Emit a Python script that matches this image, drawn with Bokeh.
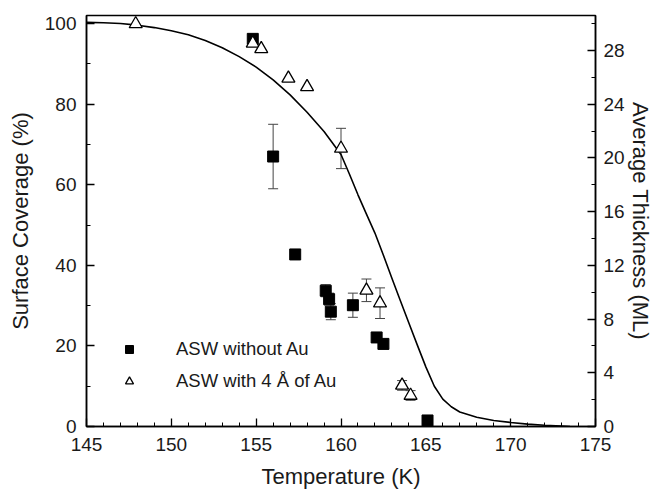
from bokeh.plotting import figure
from bokeh.models import (ColumnDataSource, Range1d, LinearAxis, Whisker, TeeHead,
                          Legend, LegendItem, FixedTicker)
from bokeh.embed import file_html
from bokeh.resources import INLINE

# --- data -----------------------------------------------------------------
# ASW without Au (filled squares)
sq_x = [154.8, 156.0, 157.3, 159.1, 159.3, 159.4, 160.7, 162.1, 162.5, 165.1]
sq_y = [96.2, 67.0, 42.7, 33.7, 31.6, 28.5, 30.1, 22.1, 20.5, 1.5]
sq_err = [0, 8.0, 0, 1.5, 1.5, 2.0, 3.0, 1.2, 1.2, 0]

# ASW with 4 Å of Au (open triangles)
tr_x = [147.9, 154.8, 155.3, 156.9, 158.0, 160.0, 161.5, 162.3, 163.6, 164.1]
tr_y = [99.9, 95.1, 93.7, 86.4, 84.3, 69.0, 33.8, 30.6, 10.2, 7.7]
tr_err = [0, 0, 0, 0, 0, 5.0, 2.8, 3.8, 1.2, 1.2]

# model curve
curve_x = [145.0, 146.0, 147.0, 148.0, 149.0, 150.0, 151.0, 152.0, 153.0, 154.0,
           155.0, 156.0, 157.0, 158.0, 159.0, 160.0, 160.5, 161.0, 161.5, 162.0,
           162.5, 163.0, 163.5, 164.0, 164.5, 165.0, 165.5, 166.0, 166.5, 167.0,
           168.0, 169.0, 170.0, 171.0, 172.0, 173.0, 173.5]
curve_y = [100.3, 100.2, 100.0, 99.6, 99.0, 98.2, 97.2, 95.8, 94.0, 91.8,
           89.2, 86.0, 82.3, 78.0, 73.2, 67.5, 62.6, 57.5, 52.7, 48.0,
           42.5, 36.8, 31.2, 25.7, 20.2, 14.8, 10.0, 6.8, 4.9, 3.6,
           2.3, 1.5, 1.0, 0.6, 0.3, 0.1, 0.0]

x_ticks = [145, 150, 155, 160, 165, 170, 175]
left_ticks = [0, 20, 40, 60, 80, 100]
right_ticks = [0, 4, 8, 12, 16, 20, 24, 28]

# --- figure ---------------------------------------------------------------
FONT = "Liberation Sans"
TXT = "#1a1a1a"

p = figure(width=658, height=491, output_backend="svg", toolbar_location=None,
           x_range=Range1d(145, 175), y_range=Range1d(0, 102),
           min_border_left=86, min_border_right=63, min_border_top=15,
           min_border_bottom=65)
p.extra_y_ranges = {"thick": Range1d(0, 102 * 0.3)}
p.grid.visible = False
p.outline_line_color = "black"
p.outline_line_width = 1.5
p.background_fill_color = "white"
p.border_fill_color = "white"

def style_axis(ax, ticks, minor):
    ax.ticker = FixedTicker(ticks=ticks, minor_ticks=minor)
    ax.major_tick_in = 8
    ax.major_tick_out = 0
    ax.minor_tick_in = 4
    ax.minor_tick_out = 0
    ax.axis_line_width = 1.5
    ax.major_tick_line_width = 1.3
    ax.minor_tick_line_width = 1.0
    ax.major_label_text_font = FONT
    ax.major_label_text_font_size = "19px"
    ax.major_label_text_color = TXT
    ax.axis_label_text_font = FONT
    ax.axis_label_text_font_size = "22px"
    ax.axis_label_text_font_style = "normal"
    ax.axis_label_text_color = TXT

xa = p.xaxis[0]
style_axis(xa, x_ticks, [145 + i for i in range(31)])
xa.axis_label = "Temperature (K)"
xa.major_label_standoff = 11
xa.axis_label_standoff = 10

ya = p.yaxis[0]
style_axis(ya, left_ticks, [10 * i for i in range(11)])
ya.axis_label = "Surface Coverage (%)"
ya.major_label_standoff = 10
ya.axis_label_standoff = 9

ra = LinearAxis(y_range_name="thick")
style_axis(ra, right_ticks, [2 * i for i in range(16)])
ra.axis_label = "Average Thickness (ML)"
ra.major_label_standoff = 8
ra.axis_label_standoff = 0
p.add_layout(ra, "right")

# curve
p.line(curve_x, curve_y, line_color="black", line_width=1.6)

# error bars
def whisk(xs, ys, es):
    xx, up, lo = [], [], []
    for x, y, e in zip(xs, ys, es):
        if e > 0:
            xx.append(x); up.append(y + e); lo.append(y - e)
    src = ColumnDataSource(dict(x=xx, upper=up, lower=lo))
    w = Whisker(source=src, base="x", upper="upper", lower="lower",
                dimension="height", line_color="#444444", line_width=1.0,
                upper_head=TeeHead(size=10, line_color="#444444", line_width=1.0),
                lower_head=TeeHead(size=10, line_color="#444444", line_width=1.0))
    p.add_layout(w)

whisk(sq_x, sq_y, sq_err)
whisk(tr_x, tr_y, tr_err)

r_sq = p.scatter(sq_x, sq_y, marker="square", size=11, fill_color="black",
                 line_color="black")
r_tr = p.scatter(tr_x, tr_y, marker="triangle", size=13, fill_color="white",
                 line_color="black", line_width=1.3)

legend = Legend(items=[LegendItem(label="ASW without Au", renderers=[r_sq]),
                       LegendItem(label="ASW with 4 Å of Au", renderers=[r_tr])],
                location=(23, 24), border_line_alpha=0, background_fill_alpha=0,
                label_text_font=FONT, label_text_font_size="18.5px",
                label_text_color=TXT, glyph_width=20, glyph_height=20,
                label_height=20, spacing=10, label_standoff=37, padding=10,
                margin=0)
p.add_layout(legend, "center")

open("out.html", "w").write(file_html(p, INLINE))
